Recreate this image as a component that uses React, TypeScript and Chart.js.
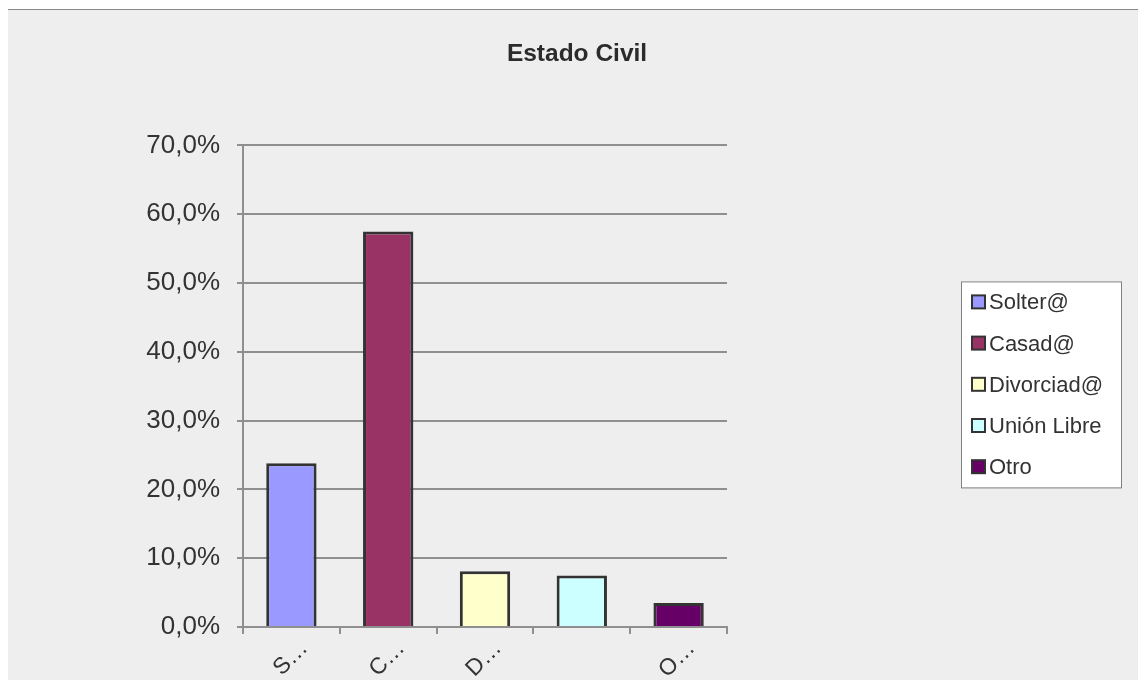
import React, { useEffect, useRef } from "react";
import { Chart, registerables } from "chart.js";

Chart.register(...registerables);

const title = "Estado Civil";
const categories = ["Solter@", "Casad@", "Divorciad@", "Unión Libre", "Otro"];
const xTickLabels = ["S…", "C…", "D…", "", "O…"];
const values = [23.8, 57.5, 8.1, 7.5, 3.5];
const barColors = ["#9999FF", "#993366", "#FFFFCC", "#CCFFFF", "#660066"];
const yTickLabels = ["0,0%", "10,0%", "20,0%", "30,0%", "40,0%", "50,0%", "60,0%", "70,0%"];

const FONT = "'Liberation Sans', Arial, sans-serif";
const TEXT = "#333333";
const GRID = "#8f8f8f";

const legendPlugin = {
  id: "boxLegend",
  afterDraw(chart: any) {
    const ctx = chart.ctx;
    const ca = chart.chartArea;
    const left = ca.right + 234;
    const top = ca.top + 136;
    const w = 160;
    const h = 206;
    ctx.save();
    ctx.fillStyle = "#ffffff";
    ctx.fillRect(left, top, w, h);
    ctx.strokeStyle = "#808080";
    ctx.lineWidth = 1;
    ctx.strokeRect(left + 0.5, top + 0.5, w, h);
    ctx.font = `22px ${FONT}`;
    ctx.textBaseline = "middle";
    ctx.textAlign = "left";
    categories.forEach((c, i) => {
      const cy = top + 21 + i * 41.2;
      ctx.fillStyle = barColors[i];
      ctx.fillRect(left + 11, cy - 7, 13, 13);
      ctx.strokeStyle = "#333333";
      ctx.lineWidth = 2;
      ctx.strokeRect(left + 11, cy - 7, 13, 13);
      ctx.fillStyle = TEXT;
      ctx.fillText(c, left + 28, cy + 1);
    });
    ctx.restore();
  },
};

export default function App() {
  const ref = useRef<HTMLCanvasElement | null>(null);
  useEffect(() => {
    if (!ref.current) return;
    const chart = new Chart(ref.current, {
      type: "bar",
      data: {
        labels: categories,
        datasets: [
          {
            data: values,
            backgroundColor: barColors,
            borderColor: "#333333",
            borderWidth: 3,
            barPercentage: 0.52,
            categoryPercentage: 1,
          },
        ],
      },
      plugins: [legendPlugin],
      options: {
        animation: false,
        responsive: true,
        maintainAspectRatio: false,
        layout: { padding: 0 },
        plugins: {
          legend: { display: false },
          tooltip: { enabled: false },
          title: {
            display: true,
            text: title,
            color: "#2b2b2b",
            font: { family: FONT, size: 24.5, weight: "bold" },
            padding: { top: 30, bottom: 76 },
          },
        },
        scales: {
          x: {
            afterFit: (s: any) => {
              s.height = 61;
            },
            grid: {
              display: true,
              drawOnChartArea: false,
              drawTicks: true,
              tickLength: 7,
              color: GRID,
              lineWidth: 2,
              offset: true,
            },
            border: { display: true, color: GRID, width: 2 },
            ticks: {
              autoSkip: false,
              minRotation: 45,
              maxRotation: 45,
              labelOffset: 13,
              padding: 1,
              color: TEXT,
              font: { family: FONT, size: 23 },
              callback: (_v: any, i: number) => xTickLabels[i],
            },
          },
          y: {
            min: 0,
            max: 70,
            afterFit: (s: any) => {
              s.width = 235;
            },
            grid: {
              color: GRID,
              lineWidth: 2,
              tickLength: 6,
              drawTicks: true,
            },
            border: { display: true, color: GRID, width: 2 },
            ticks: {
              stepSize: 10,
              padding: 17,
              color: TEXT,
              font: { family: FONT, size: 26 },
              callback: (_v: any, i: number) => yTickLabels[i],
            },
          },
          legendSpace: {
            type: "linear",
            position: "right",
            display: true,
            afterFit: (s: any) => {
              s.width = 419;
            },
            grid: { display: false, drawTicks: false },
            border: { display: false },
            ticks: { display: false },
          },
        },
      },
    });
    return () => chart.destroy();
  }, []);

  return (
    <div
      style={{
        position: "relative",
        marginLeft: -2,
        marginTop: 1,
        width: 1142,
        height: 680,
        borderTop: "1px solid #8a8a8a",
        borderLeft: "2px solid #888888",
        borderRight: "1px solid #8a8a8a",
        borderBottom: "1px solid #8a8a8a",
        background: "#eeeeee",
        boxSizing: "border-box",
      }}
    >
      <div style={{ position: "absolute", left: 0, top: 0, width: 1138, height: 678 }}>
        <canvas ref={ref} />
      </div>
    </div>
  );
}
